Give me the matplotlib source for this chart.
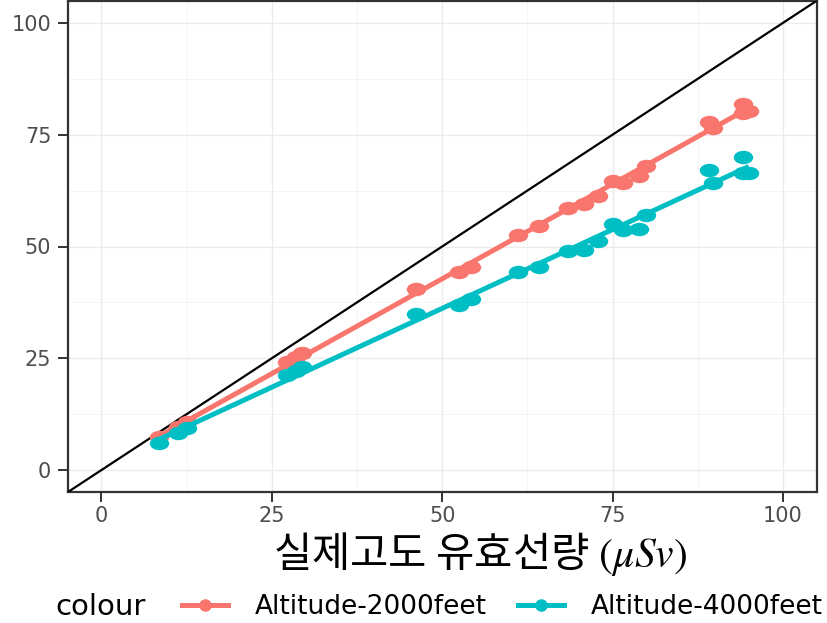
import matplotlib
matplotlib.use('Agg')
import matplotlib.pyplot as plt
import numpy as np
from matplotlib.path import Path
from matplotlib.markers import MarkerStyle
from matplotlib.transforms import Affine2D
from matplotlib.lines import Line2D

# real-altitude effective dose (x) vs. estimated dose at each altitude
dose_x = [8.4, 11.2, 12.6, 27.3, 28.5, 29.5, 46.2, 52.5, 54.2, 61.1, 64.2, 68.4,
          70.8, 72.8, 75.0, 76.5, 78.9, 79.9, 89.2, 89.8, 94.1, 94.2, 95.0]
alt_2000 = [7.4, 9.6, 10.7, 24.1, 25.2, 26.1, 40.4, 44.2, 45.5, 52.5, 54.5, 58.5,
            59.6, 61.4, 64.7, 64.3, 65.8, 67.9, 77.9, 76.6, 81.9, 79.9, 80.4]
alt_4000 = [6.0, 8.3, 9.4, 21.2, 22.2, 23.0, 35.0, 37.0, 38.2, 44.2, 45.5, 49.1,
            49.3, 51.3, 55.1, 53.8, 54.0, 57.1, 67.2, 64.1, 70.1, 66.5, 66.5]
labels = ['Altitude-2000feet', 'Altitude-4000feet']
colors = ['#F8766D', '#00BFC4']
ticks = [0, 25, 50, 75, 100]

plt.rcParams['mathtext.fontset'] = 'stix'

fig = plt.figure(figsize=(8.27, 6.23), dpi=100)
ax = fig.add_axes([68 / 827, 1 - 492 / 623, 749 / 827, 491 / 623])

# slightly wide dots, like the stretched original
dot = MarkerStyle(Path.unit_circle().transformed(Affine2D().scale(1.45, 1.0)))

ax.axline((0, 0), slope=1, color='black', lw=1.6, zorder=3)

xs = np.array(dose_x)
for ys, col in zip([alt_2000, alt_4000], colors):
    ax.plot(xs, ys, linestyle='none', marker=dot, ms=14, color=col, mec='none', zorder=4)
    k, b = np.polyfit(xs, ys, 1)
    xx = np.array([xs.min(), xs.max()])
    ax.plot(xx, k * xx + b, color=col, lw=3.6, solid_capstyle='butt', zorder=4)

ax.set_xlim(-4.9, 105)
ax.set_ylim(-4.9, 104.9)
ax.set_xticks(ticks)
ax.set_yticks(ticks)
ax.set_xticks([12.5, 37.5, 62.5, 87.5], minor=True)
ax.set_yticks([12.5, 37.5, 62.5, 87.5], minor=True)
ax.grid(which='major', color='#EBEBEB', lw=1.0)
ax.grid(which='minor', color='#F2F2F2', lw=0.6)
ax.set_axisbelow(True)
ax.tick_params(which='major', length=7, width=1.4, color='#333333',
               labelcolor='#4D4D4D', labelsize=15)
ax.tick_params(axis='x', pad=3)
ax.tick_params(axis='y', pad=5)
ax.tick_params(which='minor', length=0)
for s in ax.spines.values():
    s.set_color('#333333')
    s.set_linewidth(1.6)

fig.text(480 / 827, 1 - 554 / 623, '실제고도 유효선량 $(\\mu Sv)$', ha='center', va='center',
         fontsize=30, family='Noto Sans CJK KR', color='black')

# legend at the bottom, title on the left
fig.text(55 / 827, 1 - 607 / 623, 'colour', ha='left', va='center',
         fontsize=21, family='DejaVu Sans')
handles = [Line2D([], [], color=c, lw=3.6, marker='o', ms=8) for c in colors]
fig.legend(handles, labels, loc='center left', bbox_to_anchor=(182 / 827, 1 - 607 / 623),
           ncol=2, frameon=False, prop={'family': 'DejaVu Sans', 'size': 19},
           handlelength=1.75, handletextpad=1.0, columnspacing=1.2, borderpad=0,
           borderaxespad=0)

fig.savefig('out.png', dpi=100)
